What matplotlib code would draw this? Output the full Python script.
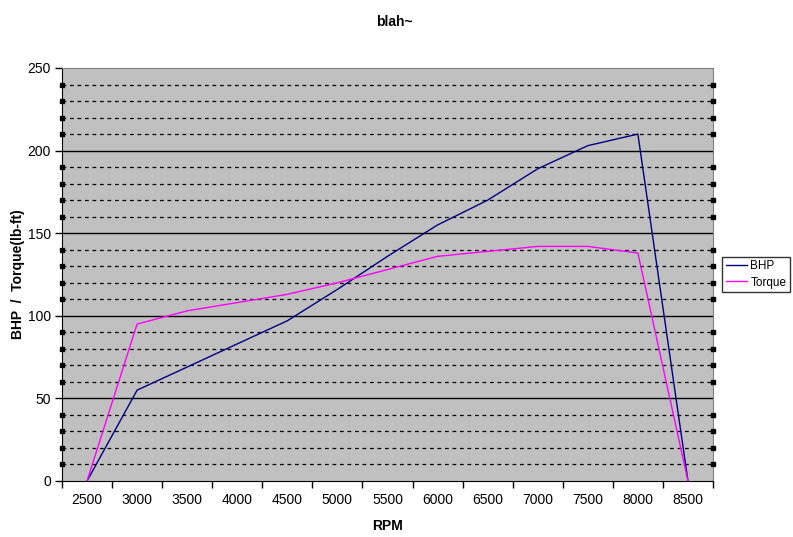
"""Excel風のBHP/トルク曲線を再現する。"""

import matplotlib

matplotlib.use("Agg")

import matplotlib.pyplot as plt
import matplotlib.transforms as mtransforms
import numpy as np

plt.rcParams["font.family"] = ["Liberation Sans", "DejaVu Sans"]

RPM_LABELS = ["2500", "3000", "3500", "4000", "4500", "5000", "5500",
              "6000", "6500", "7000", "7500", "8000", "8500"]
BHP = [0, 55, 69, 83, 97, 116, 136, 155, 170, 189, 203, 210, 0]
TORQUE = [0, 95, 103, 108, 113, 120, 128, 136, 139, 142, 142, 138, 0]

fig = plt.figure(figsize=(7.93, 5.37), dpi=100)
ax = fig.add_axes([62 / 793, 56 / 537, 651 / 793, 413 / 537])
ax.set_facecolor("#c0c0c0")

x = np.arange(len(RPM_LABELS))
ax.set_xlim(-0.5, len(RPM_LABELS) - 0.5)
ax.set_ylim(0, 250)

# グリッド: 50ごとに実線、10ごとに破線
for y in range(10, 250, 10):
    if y % 50 == 0:
        ax.axhline(y, color="black", lw=1.0, zorder=1)
    else:
        ax.axhline(y, color="black", lw=0.9, ls=(0, (3, 3)), zorder=1)

# 破線端の小さな黒い印
trans = mtransforms.blended_transform_factory(ax.transAxes, ax.transData)
minor_levels = [y for y in range(10, 250, 10) if y % 50 != 0]
for xe in (0.0, 1.0):
    ax.plot([xe] * len(minor_levels), minor_levels, ls="none", marker="s",
            ms=3, color="black", transform=trans, clip_on=False, zorder=4)

ax.plot(x, BHP, color="#000080", lw=1.0, label="BHP", zorder=3)
ax.plot(x, TORQUE, color="#ff00ff", lw=1.0, label="Torque", zorder=3)

ax.set_yticks(range(0, 251, 50))
ax.set_xticks(x, RPM_LABELS)
ax.set_xticks(np.arange(-0.5, len(RPM_LABELS), 1.0), minor=True)
ax.tick_params(axis="x", which="major", length=0, pad=9, labelsize=10)
ax.tick_params(axis="x", which="minor", length=5, direction="out", width=1)
ax.tick_params(axis="y", which="major", length=5, direction="out", width=1, labelsize=10, pad=3)

ax.spines["left"].set_color("black")
ax.spines["bottom"].set_color("black")
ax.spines["top"].set_color("#808080")
ax.spines["right"].set_color("#808080")

ax.set_xlabel("RPM", fontweight="bold", fontsize=10, labelpad=8)
ax.set_ylabel("BHP  /  Torque(lb-ft)", fontweight="bold", fontsize=10)
ax.yaxis.set_label_coords((18 - 62) / 651, 0.5)
ax.yaxis.label.set_va("center")
fig.text(0.497, 1 - 22 / 537, "blah~", ha="center", va="center", fontweight="bold", fontsize=10)

leg = ax.legend(loc="center left", bbox_to_anchor=(722 / 651 - 62 / 651, 0.5),
                bbox_transform=ax.transAxes, frameon=True, fancybox=False,
                fontsize=8.5, handlelength=1.8, handletextpad=0.3, borderpad=0.3,
                labelspacing=0.35, borderaxespad=0)
leg.get_frame().set_edgecolor("black")
leg.get_frame().set_linewidth(1.0)

fig.savefig("out.png", dpi=100)
